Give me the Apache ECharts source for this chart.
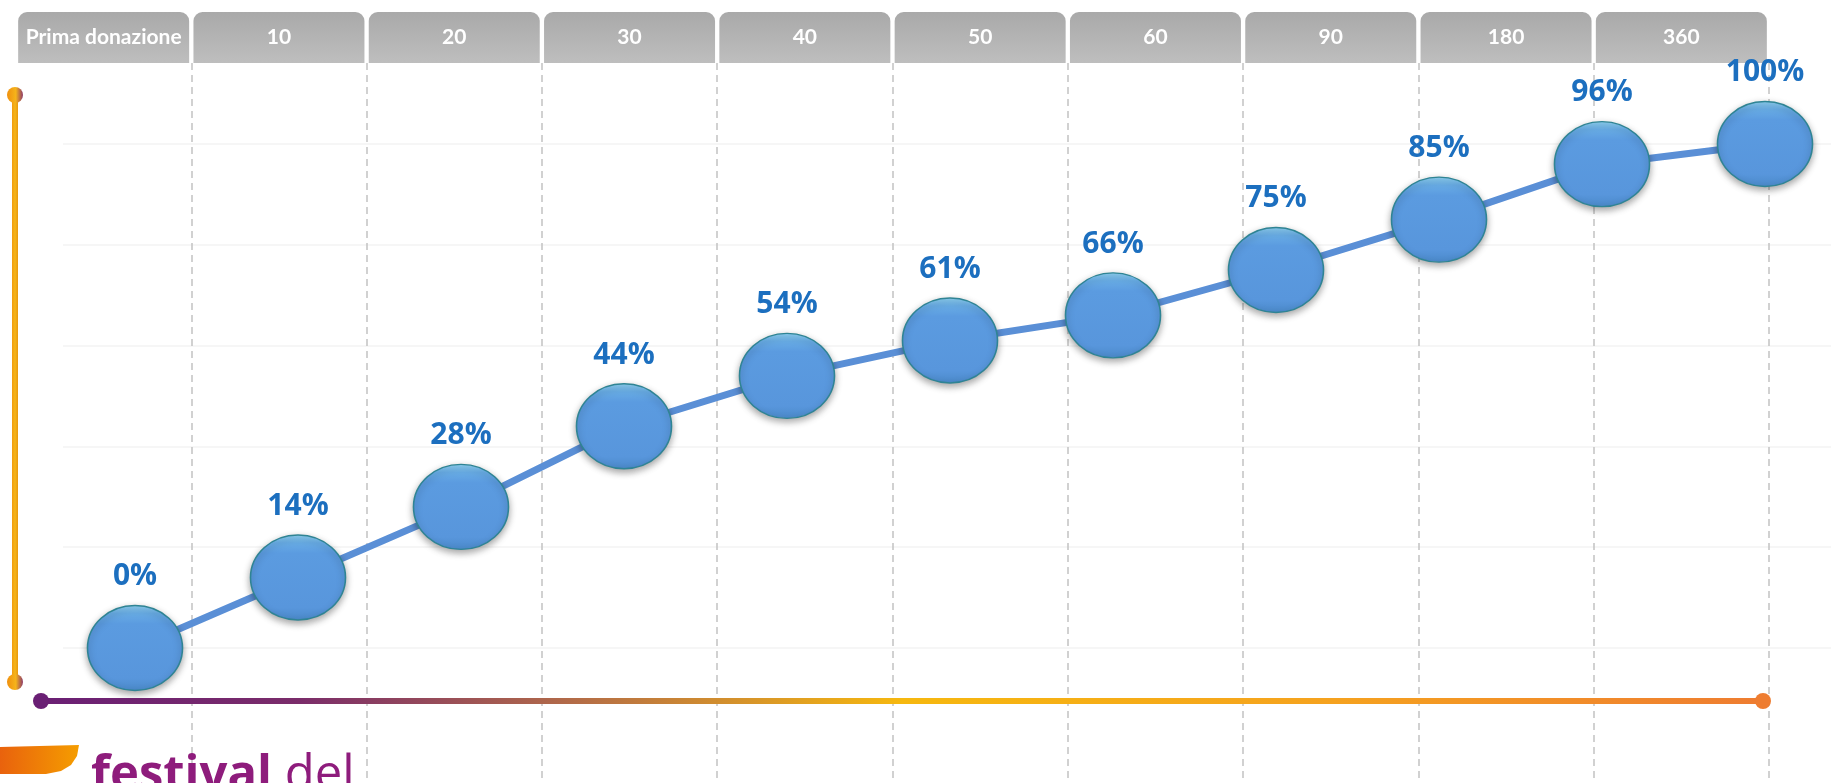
<!DOCTYPE html>
<html>
<head>
<meta charset="utf-8">
<title>Prima donazione – andamento cumulato</title>
<script src="https://cdn.jsdelivr.net/npm/echarts@6/dist/echarts.min.js"></script>
<style>
  html, body { margin: 0; padding: 0; background: #ffffff; }
  #chart { width: 1831px; height: 783px; }
</style>
</head>
<body>
<div id="chart"></div>
<script>
// Header tabs (days since the first donation)
const stages = ['Prima donazione', '10', '20', '30', '40', '50', '60', '90', '180', '360'];
// Points along the curve
const steps = ['0', '1', '2', '3', '4', '5', '6', '7', '8', '9', '10'];
// Cumulative share (%)
const values = [0, 14, 28, 44, 54, 61, 66, 75, 85, 96, 100];
// Horizontal guide scale
const yTicks = [0, 20, 40, 60, 80, 100];

const chart = echarts.init(document.getElementById('chart'), null, { renderer: 'canvas' });

const option = {
  backgroundColor: '#ffffff',
  animation: false,
  grid: [
    { left: 135, right: 66, top: 144, bottom: 135 },   // curve
    { left: 16, right: 62, top: 63, bottom: 0 },       // tabs + dashed dividers
    { left: 63, right: 0, top: 144, bottom: 135 }      // faint horizontal guides
  ],
  xAxis: [
    { gridIndex: 0, type: 'category', data: steps, boundaryGap: false, show: false },
    {
      gridIndex: 1, type: 'category', data: stages, position: 'top', boundaryGap: true,
      axisLine: { show: false }, axisTick: { show: false },
      axisLabel: {
        interval: 0, margin: 0,
        color: '#ffffff', fontFamily: 'Lato', fontWeight: 'bold', fontSize: 21,
        width: 171, height: 51, lineHeight: 51, align: 'center',
        backgroundColor: {
          type: 'linear', x: 0, y: 0, x2: 0, y2: 1,
          colorStops: [{ offset: 0, color: '#a9a9a9' }, { offset: 1, color: '#bebebe' }]
        },
        borderRadius: [9, 9, 0, 0]
      },
      splitLine: {
        show: true, showMinLine: false, showMaxLine: true,
        lineStyle: { color: '#c2c2c2', width: 1.5, type: [7, 5] }
      }
    },
    { gridIndex: 2, type: 'value', min: 0, max: 1, show: false }
  ],
  yAxis: [
    { gridIndex: 0, type: 'value', min: 0, max: 100, show: false },
    { gridIndex: 1, type: 'value', min: 0, max: 1, show: false },
    {
      gridIndex: 2, type: 'value', min: yTicks[0], max: yTicks[yTicks.length - 1],
      interval: yTicks[1] - yTicks[0],
      axisLine: { show: false }, axisTick: { show: false }, axisLabel: { show: false },
      splitLine: { show: true, lineStyle: { color: '#f3f3f3', width: 1.5 } }
    }
  ],
  series: [
    {
      type: 'line',
      xAxisIndex: 0, yAxisIndex: 0,
      data: values,
      smooth: false,
      symbol: 'circle',
      symbolSize: [95, 85],
      lineStyle: { color: '#5a8fd6', width: 7 },
      itemStyle: {
        color: {
          type: 'linear', x: 0, y: 0, x2: 0, y2: 1,
          colorStops: [
            { offset: 0, color: '#8fd2f2' },
            { offset: 0.1, color: '#68ace5' },
            { offset: 0.22, color: '#5b9be0' },
            { offset: 0.85, color: '#5896dc' },
            { offset: 1, color: '#4a89c9' }
          ]
        },
        borderColor: '#2f8494',
        borderWidth: 1.5,
        shadowColor: 'rgba(0,0,0,0.35)',
        shadowBlur: 7,
        shadowOffsetY: 3
      },
      label: {
        show: true,
        position: 'top',
        distance: 13,
        color: '#1c6fbf',
        fontFamily: 'Open Sans',
        fontWeight: 'bold',
        fontSize: 30,
        formatter: p => p.value + '%'
      },
      z: 5
    }
  ],
  graphic: [
    // vertical accent with round ends
    {
      type: 'line', z: 10,
      shape: { x1: 15, y1: 95, x2: 15, y2: 682 },
      style: {
        lineWidth: 6,
        stroke: {
          type: 'linear', x: 12, y: 0, x2: 18, y2: 0, global: true,
          colorStops: [{ offset: 0, color: '#f19c10' }, { offset: 0.5, color: '#f5b51a' }, { offset: 1, color: '#e8980f' }]
        }
      }
    },
    {
      type: 'circle', z: 11, shape: { cx: 15, cy: 95, r: 8 },
      style: {
        fill: {
          type: 'linear', x: 0, y: 0, x2: 1, y2: 0,
          colorStops: [{ offset: 0, color: '#f0900f' }, { offset: 0.55, color: '#f6b41a' }, { offset: 1, color: '#8d3a6a' }]
        }
      }
    },
    {
      type: 'circle', z: 11, shape: { cx: 15, cy: 682, r: 8 },
      style: {
        fill: {
          type: 'linear', x: 0, y: 0, x2: 1, y2: 0,
          colorStops: [{ offset: 0, color: '#f0900f' }, { offset: 0.55, color: '#f6b41a' }, { offset: 1, color: '#8d3a6a' }]
        }
      }
    },
    // horizontal accent with round ends
    {
      type: 'line', z: 10,
      shape: { x1: 41, y1: 701, x2: 1763, y2: 701 },
      style: {
        lineWidth: 6,
        stroke: {
          type: 'linear', x: 41, y: 0, x2: 1763, y2: 0, global: true,
          colorStops: [
            { offset: 0, color: '#6a1f74' },
            { offset: 0.15, color: '#7a2c6a' },
            { offset: 0.3, color: '#b0684a' },
            { offset: 0.5, color: '#f6b80f' },
            { offset: 0.75, color: '#f5a21f' },
            { offset: 1, color: '#ee7c31' }
          ]
        }
      }
    },
    { type: 'circle', z: 11, shape: { cx: 41, cy: 701, r: 8 }, style: { fill: '#6a1f74' } },
    { type: 'circle', z: 11, shape: { cx: 1763, cy: 701, r: 8 }, style: { fill: '#ee7d31' } },
    // logo mark
    {
      type: 'polygon', z: 10,
      shape: {
        points: [[0, 747], [79, 745], [77, 756], [71, 765], [61, 771], [46, 774], [0, 774]]
      },
      style: {
        fill: {
          type: 'linear', x: 0, y: 0, x2: 1, y2: 0,
          colorStops: [{ offset: 0, color: '#e9620d' }, { offset: 1, color: '#f59d00' }]
        }
      }
    },
    {
      type: 'text', z: 10, x: 91, y: 801,
      style: {
        text: '{b|festival}{r| del}',
        verticalAlign: 'bottom',
        rich: {
          b: { fontFamily: 'Open Sans', fontWeight: 'bold', fontSize: 49, fill: '#8e1c7c' },
          r: { fontFamily: 'Open Sans', fontWeight: 'normal', fontSize: 49, fill: '#8e1c7c' }
        },
        fill: '#8e1c7c'
      }
    }
  ]
};

chart.setOption(option);
</script>
</body>
</html>
